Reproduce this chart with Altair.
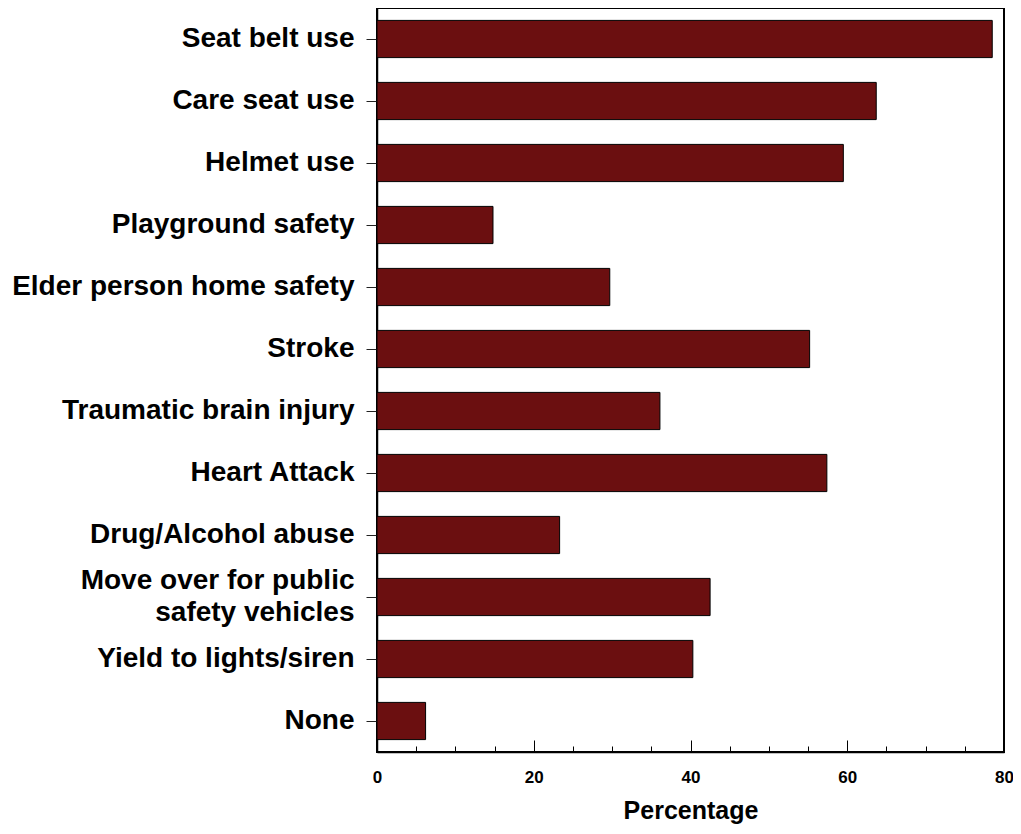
import altair as alt
import pandas as pd

categories = [
    "Seat belt use",
    "Care seat use",
    "Helmet use",
    "Playground safety",
    "Elder person home safety",
    "Stroke",
    "Traumatic brain injury",
    "Heart Attack",
    "Drug/Alcohol abuse",
    "Move over for public|safety vehicles",
    "Yield to lights/siren",
    "None",
]
percentages = [78.5, 63.7, 59.5, 14.8, 29.7, 55.2, 36.1, 57.4, 23.3, 42.5, 40.3, 6.2]

x_ticks = list(range(0, 81, 5))

df = pd.DataFrame({"topic": categories, "pct": percentages})

FONT = "Liberation Sans"

chart = (
    alt.Chart(df)
    .mark_bar(color="#6B0F10", stroke="#000000", strokeWidth=1)
    .encode(
        x=alt.X(
            "pct:Q",
            scale=alt.Scale(domain=[0, 80], nice=False, zero=True),
            axis=alt.Axis(
                title="Percentage",
                values=x_ticks,
                labelExpr="datum.value % 20 === 0 ? datum.label : ''",
                tickSize=alt.ExprRef(expr="datum.value % 20 === 0 ? -12 : -6"),
                tickColor="#000000",
                tickWidth=1,
                labelFlush=False,
                labelFont=FONT,
                labelFontSize=17,
                labelFontWeight="bold",
                labelColor="#000000",
                labelPadding=29,
                titleFont=FONT,
                titleFontSize=25,
                titleFontWeight="bold",
                titleColor="#000000",
                titlePadding=13,
                domainColor="#000000",
                domainWidth=1.5,
                grid=False,
            ),
        ),
        y=alt.Y(
            "topic:N",
            sort=categories,
            scale=alt.Scale(paddingInner=0.4, paddingOuter=0.2),
            axis=alt.Axis(
                title=None,
                labelExpr="split(datum.label, '|')",
                labelOffset={"condition": {"test": "indexof(datum.label, '|') >= 0", "value": -16}, "value": 0},
                labelFont=FONT,
                labelFontSize=28,
                labelFontWeight="bold",
                labelColor="#000000",
                labelLineHeight=32,
                labelLimit=500,
                labelPadding=12,
                tickSize=11,
                tickColor="#222222",
                tickWidth=1,
                domainColor="#000000",
                domainWidth=1.5,
                grid=False,
            ),
        ),
    )
    .properties(
        width=627,
        height=744,
        autosize=alt.AutoSizeParams(type="none"),
        padding={"left": 369, "top": 0, "right": 9, "bottom": 76},
    )
    .configure_view(stroke="#000000", strokeWidth=2)
)

chart.save("out.html", embed_options={"renderer": "svg", "actions": False})
